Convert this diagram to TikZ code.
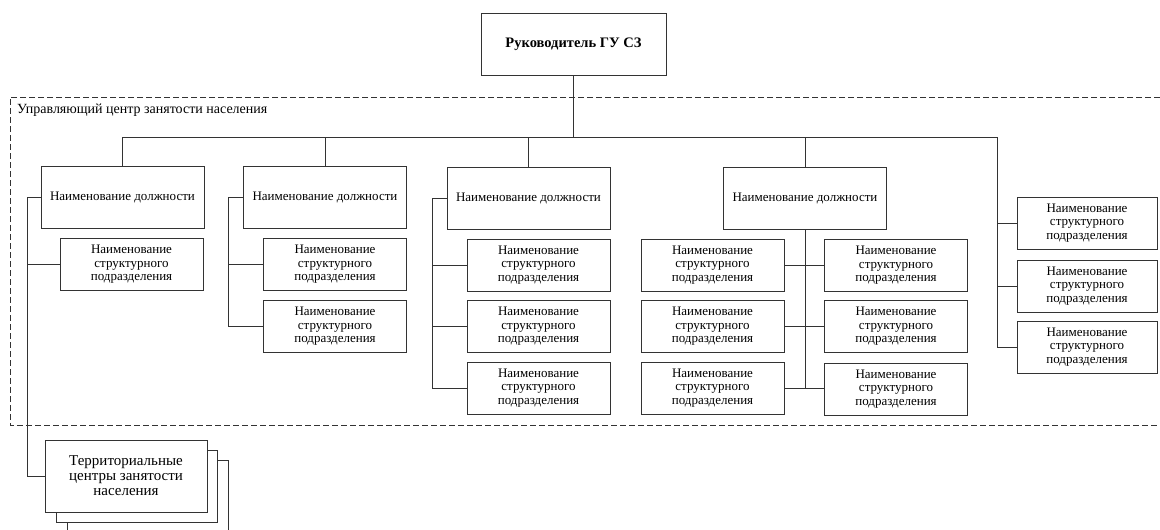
\documentclass[tikz,border=0pt]{standalone}
\usepackage{fontspec}
\setmainfont{Liberation Serif}
\begin{document}
\begin{tikzpicture}[x=1pt,y=-1pt,
  line/.style={draw=black!80, line width=0.9pt},
  box/.style={line, fill=white, rectangle, inner sep=0pt, align=center, font=\fontsize{13}{13.5}\selectfont},
  posbox/.style={box, minimum width=163pt, minimum height=62pt},
  subbox/.style={box, minimum width=143pt, minimum height=52pt},
  dashbox/.style={draw=black!80, line width=0.8pt, dash pattern=on 6pt off 3pt}
]
\useasboundingbox (0,0) rectangle (1160,530);

% top
\node[box, minimum width=185pt, minimum height=62pt, font=\fontsize{14.5}{16}\selectfont\bfseries] (top) at (573.5,44) {Руководитель ГУ СЗ};

% dashed region
\draw[dashbox] (1160,97) -- (10,97) -- (10,425) -- (1160,425);
\node[anchor=west, inner sep=0pt, font=\fontsize{14}{15}\selectfont] (ctr) at (17,110) {Управляющий центр занятости населения};

% position boxes
\node[posbox] (d1) at (122.5,197.5) {Наименование должности};
\node[posbox] (d2) at (325,197.5) {Наименование должности};
\node[posbox] (d3) at (528.5,198) {Наименование должности};
\node[posbox] (d4) at (805,198) {Наименование должности};

% sub boxes
\node[subbox] (s1) at (131.5,264.5) {Наименование\\структурного\\подразделения};
\node[subbox] (s21) at (335,264.5) {Наименование\\структурного\\подразделения};
\node[subbox] (s22) at (335,326.5) {Наименование\\структурного\\подразделения};
\node[subbox] (s31) at (538.5,265) {Наименование\\структурного\\подразделения};
\node[subbox] (s32) at (538.5,326.5) {Наименование\\структурного\\подразделения};
\node[subbox] (s33) at (538.5,388) {Наименование\\структурного\\подразделения};
\node[subbox] (s4l1) at (712.5,265) {Наименование\\структурного\\подразделения};
\node[subbox] (s4l2) at (712.5,326.5) {Наименование\\структурного\\подразделения};
\node[subbox] (s4l3) at (712.5,388) {Наименование\\структурного\\подразделения};
\node[subbox] (s4r1) at (896,265.5) {Наименование\\структурного\\подразделения};
\node[subbox] (s4r2) at (896,326.5) {Наименование\\структурного\\подразделения};
\node[subbox] (s4r3) at (896,389) {Наименование\\структурного\\подразделения};
\node[subbox, minimum width=140pt] (s51) at (1087,223) {Наименование\\структурного\\подразделения};
\node[subbox, minimum width=140pt] (s52) at (1087,286) {Наименование\\структурного\\подразделения};
\node[subbox, minimum width=140pt] (s53) at (1087,347) {Наименование\\структурного\\подразделения};

% coordinates
\coordinate (bus) at (573.5,137);
\coordinate (c5) at (997,137);
\coordinate (b1) at (27,197.5);
\coordinate (b2) at (228,197.5);
\coordinate (b3) at (432,198);

% territorial stacked boxes
\filldraw[line, fill=white] (67,531) -- (67,460) -- (228,460) -- (228,531);
\filldraw[line, fill=white] (56,450) rectangle (217,522);
\node[box, minimum width=162pt, minimum height=72pt, font=\fontsize{15}{15}\selectfont] (terr) at (126,476) {Территориальные\\центры занятости\\населения};

% connectors
\draw[line] (top.south) -- (bus);
\draw[line] (d1.north) |- (c5);
\draw[line] (d2.north) -- (d2.north |- bus);
\draw[line] (d3.north) -- (d3.north |- bus);
\draw[line] (d4.north) -- (d4.north |- bus);
% column 1
\draw[line] (d1.west) -- (b1) |- (terr.west);
\draw[line] (s1.west) -- (s1.west -| b1);
% column 2
\draw[line] (d2.west) -- (b2) |- (s22.west);
\draw[line] (s21.west) -- (s21.west -| b2);
% column 3
\draw[line] (d3.west) -- (b3) |- (s33.west);
\draw[line] (s31.west) -- (s31.west -| b3);
\draw[line] (s32.west) -- (s32.west -| b3);
% column 4
\draw[line] (d4.south) -- (d4.south |- s4l3.east);
\draw[line] (s4l1.east) -- (s4l1.east -| s4r1.west);
\draw[line] (s4l2.east) -- (s4l2.east -| s4r2.west);
\draw[line] (s4l3.east) -- (s4l3.east -| s4r3.west);
% column 5
\draw[line] (c5) |- (s53.west);
\draw[line] (s51.west) -- (s51.west -| c5);
\draw[line] (s52.west) -- (s52.west -| c5);
\end{tikzpicture}
\end{document}
